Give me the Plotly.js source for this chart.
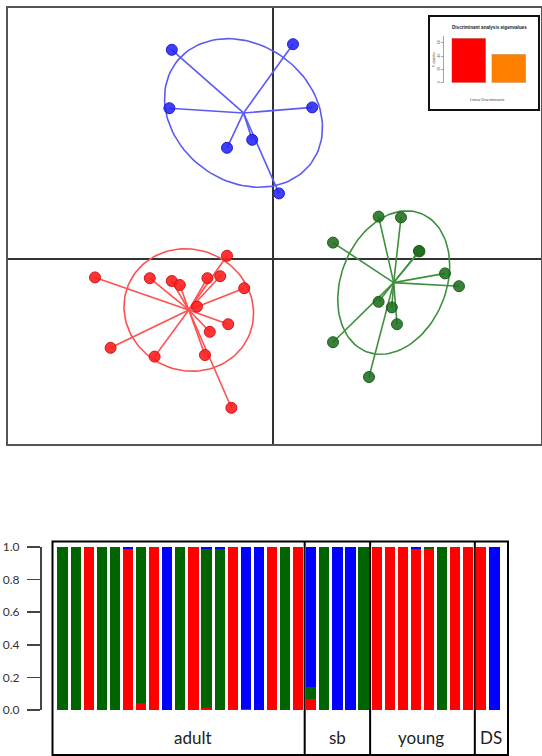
<!DOCTYPE html>
<html>
<head>
<meta charset="utf-8">
<script src="https://cdn.plot.ly/plotly-3.0.1.min.js"></script>
<style>html,body{margin:0;padding:0;background:#fff;}#chart{width:542px;height:756px;}</style>
</head>
<body>
<div id="chart"></div>
<script>
// ---- DAPC scatter data (LD1, LD2) ----
const blueX  = [-2.53, 0.50, -2.59, 0.98, -1.15, -0.52, 0.15];
const blueY  = [5.23, 5.37, 3.77, 3.79, 2.78, 2.98, 1.64];
const greenX = [2.64, 3.20, 1.50, 3.65, 3.66, 4.30, 4.65, 2.64, 2.97, 3.10, 1.50, 2.40];
const greenY = [1.06, 1.04, 0.41, 0.20, 0.19, -0.36, -0.68, -1.07, -1.21, -1.63, -2.08, -2.95];
const redX   = [-4.45, -3.08, -2.53, -2.33, -1.64, -1.32, -1.15, -0.72, -1.90, -1.12, -1.58, -4.06, -2.96, -1.70, -1.04];
const redY   = [-0.46, -0.48, -0.55, -0.65, -0.48, -0.43, 0.08, -0.73, -1.19, -1.63, -1.82, -2.22, -2.44, -2.40, -3.72];

// ---- inset eigenvalues ----
const eigLabels = ['LD1', 'LD2'];
const eigValues = [67, 43];
const eigTicks = [0, 20, 40, 60];

// ---- compoplot membership probabilities ----
const memRed   = [0,0,1,0,0,0.99,0.04,1,0,0,1,0.01,0,1,0.005,0,1,0,1,  0.07,0,0,0,0,  1,1,1,0.985,0.99,0,1,1,  1,0];
const memGreen = [1,1,0,1,1,0,0.96,0,0,1,0,0.98,0.99,0,0,0,0,1,0,    0.07,1,0,0,1,  0,0,0,0,0.01,1,0,0,  0,0];
const memBlue  = [0,0,0,0,0,0.01,0,0,1,0,0,0.01,0.01,0,0.995,1,0,0,0, 0.86,0,1,1,0,  0,0,0,0.015,0,0,0,0,  0,1];
const groupNames = ['adult', 'sb', 'young', 'DS'];
const groupSizes = [19, 5, 8, 2];
const yTickVals = [0, 0.2, 0.4, 0.6, 0.8, 1.0];
const yTickText = ['0.0', '0.2', '0.4', '0.6', '0.8', '1.0'];

// ---- helpers ----
const W = 542, H = 756;
const px = v => v / W;
const py = v => 1 - v / H;
const mean = a => a.reduce((s, v) => s + v, 0) / a.length;

function star(xs, ys) {
  const cx = mean(xs), cy = mean(ys);
  const X = [], Y = [];
  xs.forEach((x, i) => { X.push(cx, x, null); Y.push(cy, ys[i], null); });
  return {X, Y};
}
function ellipse(xs, ys, k) {
  const mx = mean(xs), my = mean(ys), n = xs.length;
  let vx = 0, vy = 0, cxy = 0;
  xs.forEach((x, i) => { const dx = x - mx, dy = ys[i] - my; vx += dx*dx; vy += dy*dy; cxy += dx*dy; });
  vx /= n; vy /= n; cxy /= n;
  const d = Math.sqrt((vx - vy) * (vx - vy) + 4 * cxy * cxy);
  const l1 = (vx + vy + d) / 2, l2 = vx + vy - l1;
  const th = 0.5 * Math.atan2(2 * cxy, vx - vy);
  const a = k * Math.sqrt(l1), b = k * Math.sqrt(Math.max(l2, 0));
  const X = [], Y = [];
  for (let i = 0; i <= 120; i++) {
    const t = 2 * Math.PI * i / 120;
    X.push(mx + a * Math.cos(t) * Math.cos(th) - b * Math.sin(t) * Math.sin(th));
    Y.push(my + a * Math.cos(t) * Math.sin(th) + b * Math.sin(t) * Math.cos(th));
  }
  return {X, Y};
}

const groups = [
  {x: blueX,  y: blueY,  line: '#5a5af5', pt: 'rgba(35,35,250,0.88)',  ptLine: '#2020c8'},
  {x: greenX, y: greenY, line: '#3f8f3f', pt: 'rgba(30,110,30,0.88)',  ptLine: '#1f5f1f'},
  {x: redX,   y: redY,   line: '#ff5050', pt: 'rgba(255,30,30,0.9)',   ptLine: '#d01818'}
];

const traces = [];
groups.forEach(g => {
  const e = ellipse(g.x, g.y, 1.5);
  traces.push({x: e.X, y: e.Y, type: 'scatter', mode: 'lines', line: {color: g.line, width: 1.6}, hoverinfo: 'skip', xaxis: 'x', yaxis: 'y'});
  const s = star(g.x, g.y);
  traces.push({x: s.X, y: s.Y, type: 'scatter', mode: 'lines', line: {color: g.line, width: 1.6}, hoverinfo: 'skip', xaxis: 'x', yaxis: 'y'});
  traces.push({x: g.x, y: g.y, type: 'scatter', mode: 'markers', marker: {size: 11, color: g.pt, line: {color: g.ptLine, width: 1}}, xaxis: 'x', yaxis: 'y'});
});

// inset bars
traces.push({x: eigLabels, y: eigValues, type: 'bar', marker: {color: ['#ff0000', '#ff7f00'], line: {color: '#bbbbbb', width: 0.5}}, xaxis: 'x3', yaxis: 'y3', width: 0.85});

// compoplot
const idx = memRed.map((_, i) => i);
[[memRed, '#ff0000'], [memGreen, '#006400'], [memBlue, '#0000ff']].forEach(([vals, col]) => {
  traces.push({x: idx, y: vals, type: 'bar', marker: {color: col, line: {width: 0}}, xaxis: 'x2', yaxis: 'y2'});
});

// group separators and label positions from group sizes
const shapes = [];
const annotations = [];
let start = 0;
const labelOffsets = [1.0, 0, -0.1, 0.2];
groupSizes.forEach((n, gi) => {
  const end = start + n;
  if (gi < groupSizes.length - 1) {
    shapes.push({type: 'line', xref: 'x2', yref: 'paper', x0: end - 0.5, x1: end - 0.5, y0: py(755), y1: py(541.5), line: {color: '#000', width: 2}});
  }
  annotations.push({xref: 'x2', yref: 'paper', x: (start + end - 1) / 2 + labelOffsets[gi], y: py(737), text: groupNames[gi], showarrow: false,
    font: {family: 'Lato, "Open Sans", sans-serif', size: 17, color: '#222'}, xanchor: 'center', yanchor: 'middle'});
  start = end;
});
// compoplot frame
shapes.push({type: 'rect', xref: 'paper', yref: 'paper', x0: px(52.5), x1: px(508), y0: py(755), y1: py(541.5), line: {color: '#000', width: 2}, fillcolor: 'rgba(0,0,0,0)'});
// inset frame
shapes.push({type: 'rect', xref: 'paper', yref: 'paper', x0: px(429), x1: px(539), y0: py(110), y1: py(16), line: {color: '#111', width: 2}, fillcolor: 'rgba(0,0,0,0)', layer: 'above'});

annotations.push({xref: 'paper', yref: 'paper', x: px(489), y: py(28), text: '<b>Discriminant analysis eigenvalues</b>', showarrow: false,
  xanchor: 'center', yanchor: 'middle', font: {family: 'Liberation Sans, Arial, sans-serif', size: 4.6, color: '#222'}});
annotations.push({xref: 'paper', yref: 'paper', x: px(487), y: py(100), text: 'Linear Discriminants', showarrow: false,
  xanchor: 'center', yanchor: 'middle', font: {family: 'Liberation Sans, Arial, sans-serif', size: 3.8, color: '#444'}});
annotations.push({xref: 'paper', yref: 'paper', x: px(434), y: py(60), text: 'F-statistic', showarrow: false, textangle: -90,
  xanchor: 'center', yanchor: 'middle', font: {family: 'Liberation Sans, Arial, sans-serif', size: 3.5, color: '#444'}});

const layout = {
  width: W, height: H,
  margin: {l: 0, r: 0, t: 0, b: 0},
  paper_bgcolor: '#fff', plot_bgcolor: 'rgba(0,0,0,0)',
  showlegend: false,
  barmode: 'stack',
  bargap: 0.22,
  xaxis: {domain: [px(8), px(541)], range: [-6.625, 6.7], showgrid: false, showticklabels: false, ticks: '',
    zeroline: true, zerolinecolor: '#333', zerolinewidth: 1.6, showline: true, mirror: true, linecolor: '#555', linewidth: 2, anchor: 'y'},
  yaxis: {domain: [py(444), py(8)], range: [-4.625, 6.275], showgrid: false, showticklabels: false, ticks: '',
    zeroline: true, zerolinecolor: '#333', zerolinewidth: 1.6, showline: true, mirror: true, linecolor: '#555', linewidth: 2, anchor: 'x'},
  xaxis2: {domain: [px(56), px(501)], range: [-0.5, 33.5], showgrid: false, showticklabels: false, ticks: '', zeroline: false, showline: false, anchor: 'y2'},
  yaxis2: {domain: [py(710), py(547)], range: [0, 1], showgrid: false, zeroline: false, anchor: 'free', position: px(40),
    showline: true, linecolor: '#444', linewidth: 1.6, ticks: 'outside', ticklen: 13, tickwidth: 1.6, tickcolor: '#444',
    ticklabelstandoff: 5,
    tickvals: yTickVals, ticktext: yTickText, tickfont: {family: 'Lato, "Open Sans", sans-serif', size: 12, color: '#333'}},
  xaxis3: {domain: [px(448.6), px(528.9)], range: [-0.5, 1.5], showgrid: false, showticklabels: false, ticks: '', zeroline: false, showline: false, anchor: 'y3'},
  yaxis3: {domain: [py(82.7), py(36)], range: [0, 70.2], showgrid: false, zeroline: false, anchor: 'free', position: px(443),
    showline: true, linecolor: '#666', linewidth: 0.6, ticks: 'outside', ticklen: 2, tickwidth: 0.6, tickcolor: '#666',
    tickvals: eigTicks, tickfont: {family: 'Liberation Sans, Arial, sans-serif', size: 3.5, color: '#444'}, tickangle: -90},
  shapes: shapes,
  annotations: annotations
};

Plotly.newPlot('chart', traces, layout, {displayModeBar: false, staticPlot: true});
</script>
</body>
</html>
